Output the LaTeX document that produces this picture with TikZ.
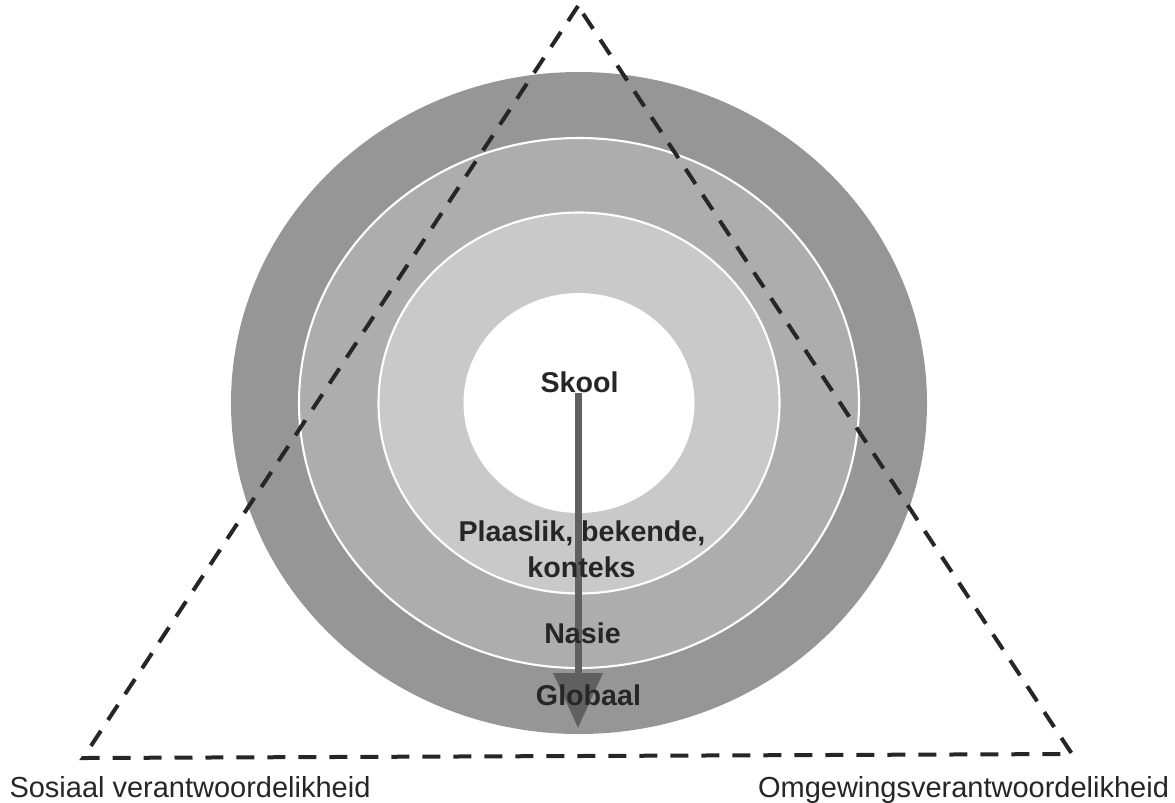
\documentclass[tikz,border=0pt]{standalone}
\usepackage{fontspec}
\setmainfont{Liberation Sans}
\usepackage{tikz}
\usetikzlibrary{arrows.meta,backgrounds}
\usepackage{xcolor}
\definecolor{ringout}{RGB}{150,150,150}
\definecolor{ringmid}{RGB}{173,173,173}
\definecolor{ringin}{RGB}{201,201,201}
\definecolor{pijl}{RGB}{96,96,96}
\definecolor{ink}{RGB}{38,38,38}

\begin{document}
\begin{tikzpicture}[x=0.02cm, y=-0.02cm,
  lvl/.style={font=\fontsize{16.3}{19}\selectfont\bfseries, text=ink,
              inner sep=0pt, anchor=base},
  side/.style={font=\fontsize{16.5}{19}\selectfont, text=ink,
              inner sep=0pt, anchor=base},
  rim/.style={draw=white, line width=1.2pt},
  dashline/.style={line width=0.08cm, draw=black!85,
              dash pattern=on 0.36cm off 0.26cm, line join=miter},
  arrow/.style={-{Triangle[length=1.1cm, width=0.96cm]}, line width=0.14cm, draw=pijl}]
\useasboundingbox (0,0) rectangle (1175,802);
\coordinate (c) at (579,403);
\coordinate (top) at (578,6);
\coordinate (sl) at (83,758);
\coordinate (sr) at (1072,754);
\coordinate (tip) at (578,728);
% labels
\node[lvl] (skool)    at (579.5,392) {Skool};
\node[lvl] (plaaslik) at (582,541) {Plaaslik, bekende,};
\node[lvl] (konteks)  at (581.5,577) {konteks};
\node[lvl] (nasie)    at (582.5,643) {Nasie};
\node[lvl] (globaal)  at (588.5,705) {Globaal};
\node[side] (sosiaal) at (190,797) {Sosiaal verantwoordelikheid};
\node[side] (omgewing) at (963.5,797) {Omgewingsverantwoordelikheid};
\begin{scope}[on background layer]
  % rings, outside in
  \fill[ringout] (c) ellipse [x radius=348, y radius=331];
  \filldraw[ringmid, rim] (c) ellipse [x radius=280, y radius=265];
  \filldraw[ringin, rim] (c) ellipse [x radius=200.5, y radius=190.5];
  \fill[white] (c) ellipse [x radius=115.5, y radius=110];
  \draw[dashline] (top) -- (sl) -- (sr) -- cycle;
  \draw[arrow] (tip |- skool.south) -- (tip);
\end{scope}
\end{tikzpicture}
\end{document}
